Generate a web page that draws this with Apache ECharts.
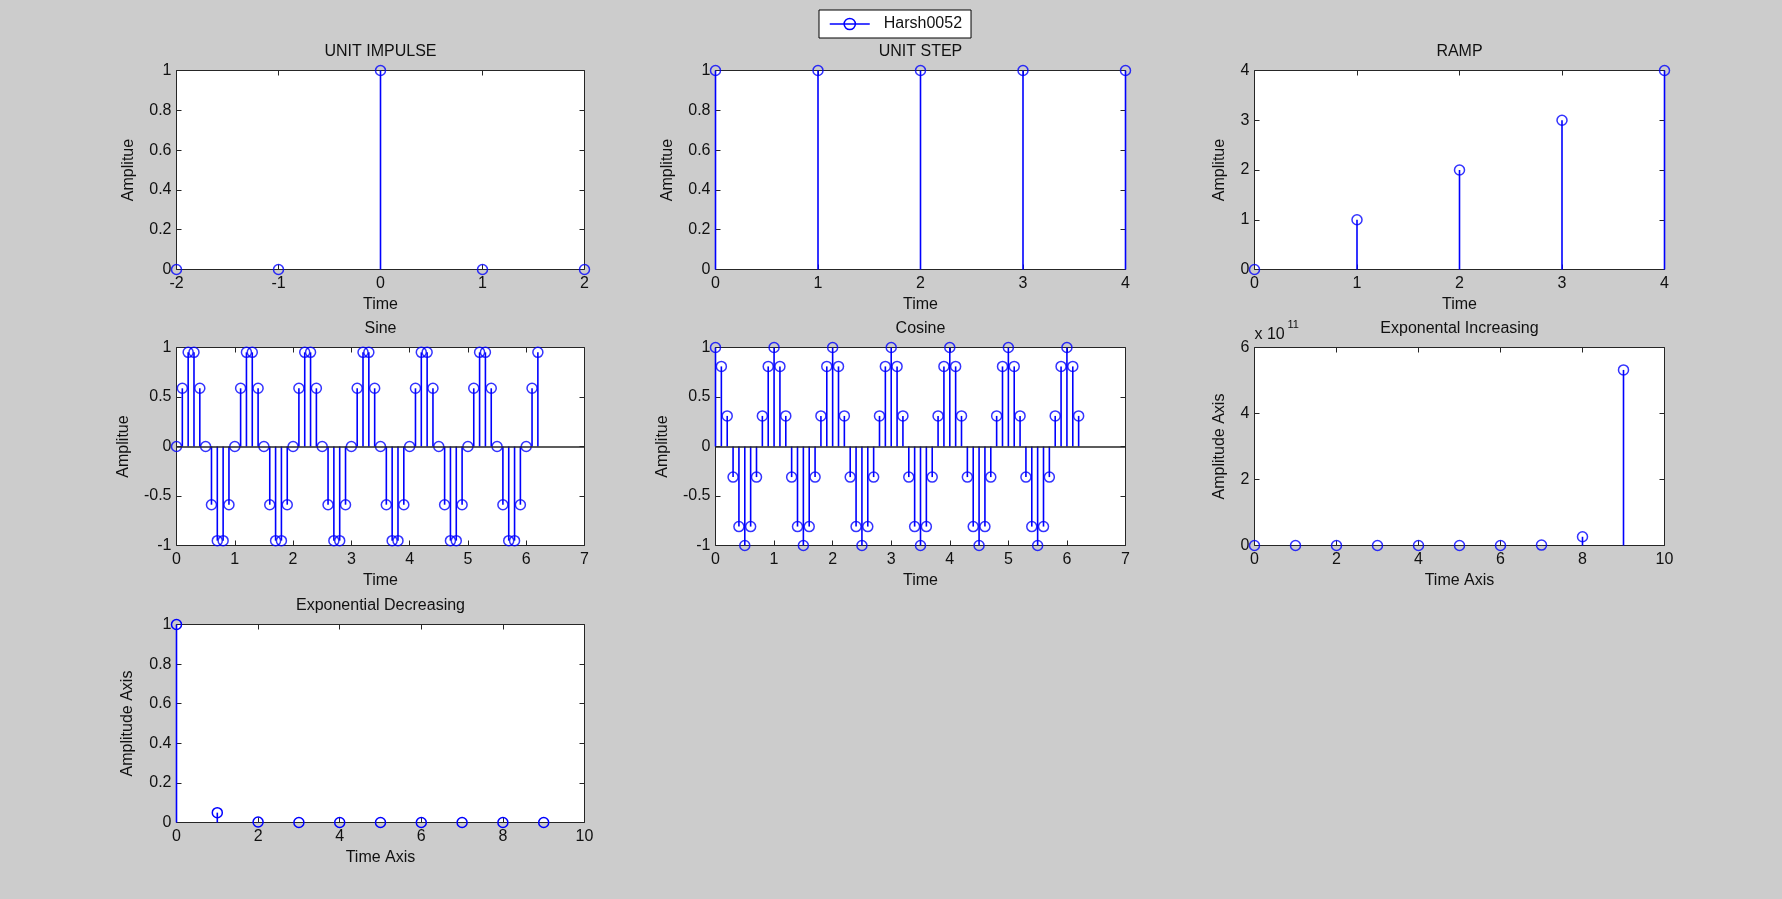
<!DOCTYPE html>
<html>
<head>
<meta charset="utf-8">
<script src="https://cdn.jsdelivr.net/npm/echarts@6/dist/echarts.min.js"></script>
<style>
html,body{margin:0;padding:0;background:#cccccc;}
#chart{width:1782px;height:899px;}
</style>
</head>
<body>
<div id="chart"></div>
<script>
// ---------------- data ----------------
const legendName = 'Harsh0052';

const impulseT = [-2, -1, 0, 1, 2];
const impulseY = [0, 0, 1, 0, 0];

const stepT = [0, 1, 2, 3, 4];
const stepY = [1, 1, 1, 1, 1];

const rampT = [0, 1, 2, 3, 4];
const rampY = [0, 1, 2, 3, 4];

const waveT = [
  0, 0.1, 0.2, 0.3, 0.4, 0.5, 0.6, 0.7, 0.8, 0.9,
  1.0, 1.1, 1.2, 1.3, 1.4, 1.5, 1.6, 1.7, 1.8, 1.9,
  2.0, 2.1, 2.2, 2.3, 2.4, 2.5, 2.6, 2.7, 2.8, 2.9,
  3.0, 3.1, 3.2, 3.3, 3.4, 3.5, 3.6, 3.7, 3.8, 3.9,
  4.0, 4.1, 4.2, 4.3, 4.4, 4.5, 4.6, 4.7, 4.8, 4.9,
  5.0, 5.1, 5.2, 5.3, 5.4, 5.5, 5.6, 5.7, 5.8, 5.9,
  6.0, 6.1, 6.2
];
const sineY = [
  0, 0.588, 0.951, 0.951, 0.588, 0, -0.588, -0.951, -0.951, -0.588,
  0, 0.588, 0.951, 0.951, 0.588, 0, -0.588, -0.951, -0.951, -0.588,
  0, 0.588, 0.951, 0.951, 0.588, 0, -0.588, -0.951, -0.951, -0.588,
  0, 0.588, 0.951, 0.951, 0.588, 0, -0.588, -0.951, -0.951, -0.588,
  0, 0.588, 0.951, 0.951, 0.588, 0, -0.588, -0.951, -0.951, -0.588,
  0, 0.588, 0.951, 0.951, 0.588, 0, -0.588, -0.951, -0.951, -0.588,
  0, 0.588, 0.951
];
const cosineY = [
  1, 0.809, 0.309, -0.309, -0.809, -1, -0.809, -0.309, 0.309, 0.809,
  1, 0.809, 0.309, -0.309, -0.809, -1, -0.809, -0.309, 0.309, 0.809,
  1, 0.809, 0.309, -0.309, -0.809, -1, -0.809, -0.309, 0.309, 0.809,
  1, 0.809, 0.309, -0.309, -0.809, -1, -0.809, -0.309, 0.309, 0.809,
  1, 0.809, 0.309, -0.309, -0.809, -1, -0.809, -0.309, 0.309, 0.809,
  1, 0.809, 0.309, -0.309, -0.809, -1, -0.809, -0.309, 0.309, 0.809,
  1, 0.809, 0.309
];

const expT = [0, 1, 2, 3, 4, 5, 6, 7, 8, 9];
const expIncY = [1, 20.09, 403.4, 8103, 162755, 3269017, 65659969, 1318815734, 26489122130, 532048240602];
const expDecY = [1, 0.0498, 0.00248, 0.000123, 0.0000061, 0.000000306, 0.0000000152, 0.00000000076, 0.000000000038, 0.0000000000019];

// axis ranges: [min, max, interval]
const impulseXRange = [-2, 2, 1];
const unitYRange = [0, 1, 0.2];
const stepXRange = [0, 4, 1];
const rampYRange = [0, 4, 1];
const waveXRange = [0, 7, 1];
const waveYRange = [-1, 1, 0.5];
const expXRange = [0, 10, 2];
const expIncYRange = [0, 6e11, 2e11];
const expIncScale = 1e11;
const expIncExponent = '11';

// ---------------- layout ----------------
const colLeft = [176.5, 715.5, 1254.5];
const colWidth = [408, 410, 410];
const rowTop = [70.5, 347.5, 624.5];
const rowHeight = [199, 198, 198];

const panels = [
  {title: 'UNIT IMPULSE', t: impulseT, y: impulseY, xr: impulseXRange, yr: unitYRange, xName: 'Time', yName: 'Amplitue', c: 0, r: 0, yGap: 40},
  {title: 'UNIT STEP', t: stepT, y: stepY, xr: stepXRange, yr: unitYRange, xName: 'Time', yName: 'Amplitue', c: 1, r: 0, yGap: 40},
  {title: 'RAMP', t: rampT, y: rampY, xr: stepXRange, yr: rampYRange, xName: 'Time', yName: 'Amplitue', c: 2, r: 0, yGap: 27},
  {title: 'Sine', t: waveT, y: sineY, xr: waveXRange, yr: waveYRange, xName: 'Time', yName: 'Amplitue', c: 0, r: 1, yGap: 45, baseline: true},
  {title: 'Cosine', t: waveT, y: cosineY, xr: waveXRange, yr: waveYRange, xName: 'Time', yName: 'Amplitue', c: 1, r: 1, yGap: 45, baseline: true},
  {title: 'Exponental Increasing', t: expT, y: expIncY, xr: expXRange, yr: expIncYRange, xName: 'Time Axis', yName: 'Amplitude Axis', c: 2, r: 1, yGap: 27, scale: expIncScale},
  {title: 'Exponential Decreasing', t: expT, y: expDecY, xr: expXRange, yr: unitYRange, xName: 'Time Axis', yName: 'Amplitude Axis', c: 0, r: 2, yGap: 41, legend: true}
];

const BLUE = '#0000ff';
const TXT = '#111111';
const FONT = 'Liberation Sans, Arial, sans-serif';

const grids = [], xAxes = [], yAxes = [], series = [], titles = [];

panels.forEach((p, i) => {
  const left = colLeft[p.c], top = rowTop[p.r], width = colWidth[p.c], height = rowHeight[p.r];
  grids.push({left, top, width, height, show: true, backgroundColor: '#ffffff', borderColor: '#262626', borderWidth: 1, containLabel: false, outerBoundsMode: 'none'});
  const tick = {show: true, inside: true, length: 5, lineStyle: {color: '#262626', width: 1}};
  const baseAx = (r) => ({type: 'value', gridIndex: i, min: r[0], max: r[1], interval: r[2], splitLine: {show: false}, axisLine: {show: false, onZero: false}, axisTick: tick});
  xAxes.push(Object.assign(baseAx(p.xr), {
    position: 'bottom', name: p.xName, nameLocation: 'middle', nameGap: 27,
    nameTextStyle: {fontSize: 16, color: TXT, fontFamily: FONT},
    axisLabel: {show: true, fontSize: 16, color: TXT, margin: 6, showMinLabel: true, showMaxLabel: true, hideOverlap: false, fontFamily: FONT}
  }));
  xAxes.push(Object.assign(baseAx(p.xr), {position: 'top', axisLabel: {show: false}}));
  const yLabel = {show: true, fontSize: 16, color: TXT, margin: 5, showMinLabel: true, showMaxLabel: true, hideOverlap: false, fontFamily: FONT};
  if (p.scale) yLabel.formatter = (v) => String(Math.round(v / p.scale * 1000) / 1000);
  yAxes.push(Object.assign(baseAx(p.yr), {
    position: 'left', name: p.yName, nameLocation: 'middle', nameGap: p.yGap, nameRotate: 90,
    nameTextStyle: {fontSize: 16, color: TXT, fontFamily: FONT},
    axisLabel: yLabel
  }));
  yAxes.push(Object.assign(baseAx(p.yr), {position: 'right', axisLabel: {show: false}}));

  const pts = p.t.map((x, j) => [x, p.y[j]]);
  const stem = {
    type: 'bar', xAxisIndex: 2 * i, yAxisIndex: 2 * i, data: pts, barWidth: 1.6,
    itemStyle: {color: BLUE}, silent: true, clip: false, animation: false, z: 2
  };
  if (p.baseline) {
    stem.markLine = {silent: true, symbol: ['none', 'none'], label: {show: false}, animation: false,
      lineStyle: {color: '#262626', width: 1.5, type: 'solid'}, emphasis: {disabled: true}, data: [{yAxis: 0}]};
  }
  series.push(stem);
  const markerStyle = {color: 'rgba(0,0,0,0)', borderColor: BLUE, borderWidth: 1.5};
  if (p.legend) {
    series.push({
      type: 'line', name: legendName, xAxisIndex: 2 * i, yAxisIndex: 2 * i, data: pts,
      symbol: 'circle', symbolSize: 10, showSymbol: true, showAllSymbol: true,
      lineStyle: {opacity: 0, color: BLUE, width: 1}, itemStyle: markerStyle,
      clip: false, silent: true, animation: false, z: 3, emphasis: {disabled: true}
    });
  } else {
    series.push({
      type: 'scatter', xAxisIndex: 2 * i, yAxisIndex: 2 * i, data: pts,
      symbol: 'circle', symbolSize: 10, itemStyle: markerStyle,
      clip: false, silent: true, animation: false, z: 3, emphasis: {disabled: true}
    });
  }
  titles.push({text: p.title, left: left + width / 2, top: top - 27, textAlign: 'center', padding: 0,
    textStyle: {fontSize: 16, fontWeight: 'normal', color: TXT, fontFamily: FONT}});
  if (p.scale) {
    titles.push({text: 'x 10', left: left, top: top - 21, padding: 0,
      textStyle: {fontSize: 16, fontWeight: 'normal', color: TXT, fontFamily: FONT}});
    titles.push({text: expIncExponent, left: left + 33, top: top - 28, padding: 0,
      textStyle: {fontSize: 11, fontWeight: 'normal', color: TXT, fontFamily: FONT}});
  }
});

const option = {
  backgroundColor: '#cccccc',
  animation: false,
  textStyle: {fontFamily: FONT},
  title: titles,
  legend: {
    data: [legendName], left: 819, top: 10, padding: [6, 9, 6, 10],
    itemWidth: 40, itemHeight: 14, itemGap: 0,
    backgroundColor: '#ffffff', borderColor: '#000000', borderWidth: 1, borderRadius: 0,
    selectedMode: false,
    textStyle: {fontSize: 16, color: TXT, fontFamily: FONT, padding: [0, 0, 0, 9]},
    lineStyle: {color: BLUE, width: 1.5, opacity: 1},
    itemStyle: {color: 'rgba(0,0,0,0)', borderColor: BLUE, borderWidth: 1.5}
  },
  grid: grids,
  xAxis: xAxes,
  yAxis: yAxes,
  series: series
};

const chart = echarts.init(document.getElementById('chart'), null, {renderer: 'canvas'});
chart.setOption(option);
</script>
</body>
</html>
